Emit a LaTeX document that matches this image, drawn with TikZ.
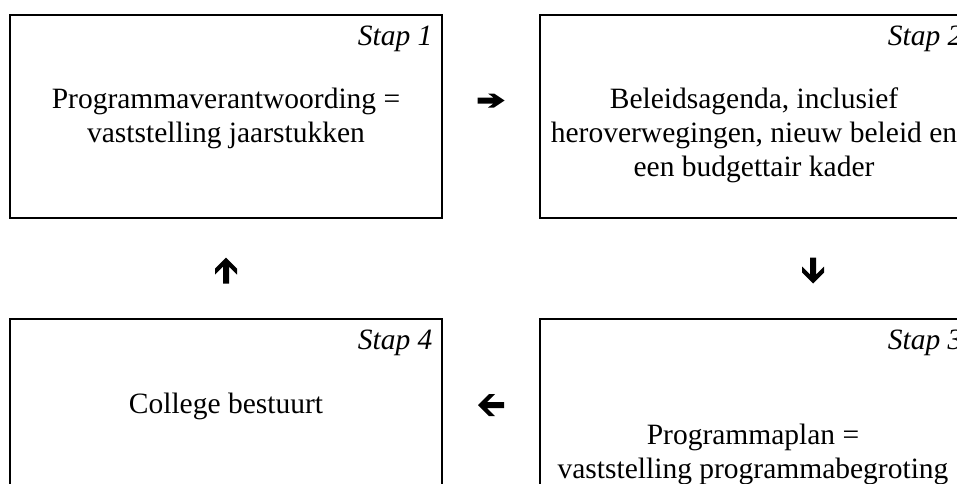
\documentclass[tikz,border=0pt]{standalone}
\usepackage{fontspec}
\setmainfont{Liberation Serif}
\usetikzlibrary{calc}
\tikzset{
  box/.style={draw=black, line width=1.3pt, minimum width=432pt, minimum height=203pt, inner sep=0pt},
  maintext/.style={font=\fontsize{29.5}{34}\selectfont, align=center, inner sep=0pt, anchor=base},
  staptext/.style={font=\fontsize{29.5}{34}\selectfont\itshape, inner sep=0pt, anchor=base east},
  pics/chevarrow/.style={code={
    \fill[black] (-13.5,-3) -- (2.5,-3) -- (-3,-7) -- (3,-7) -- (13.5,0) -- (3,7) -- (-3,7) -- (2.5,3) -- (-13.5,3) -- cycle;
  }},
  pics/wedgearrow/.style={code={
    \fill[black] (13,0) -- (2,-11) -- (-4,-11) -- (4,-3) -- (-13,-3) -- (-13,3) -- (4,3) -- (-4,11) -- (2,11) -- cycle;
  }}
}
\begin{document}
\begin{tikzpicture}[x=1pt,y=-1pt]
\useasboundingbox (0,0) rectangle (957,483);
\clip (0,0) rectangle (957,483);
\node[box] (b1) at (226,116.5) {};
\node[box] (b2) at (756,116.5) {};
\node[box] (b3) at (756,420.5) {};
\node[box] (b4) at (226,420.5) {};
\node[staptext] (s1) at ($(b1.north east)+(-10,31)$) {Stap 1};
\node[staptext] (s2) at ($(b2.north east)+(-10,31)$) {Stap 2};
\node[staptext] (s3) at ($(b3.north east)+(-10,31)$) {Stap 3};
\node[staptext] (s4) at ($(b4.north east)+(-10,31)$) {Stap 4};
\node[maintext] (t1) at ($(b1.north)+(0,128)$) {Programmaverantwoording =\\vaststelling jaarstukken};
\node[maintext] (t2) at ($(b2.north)+(-2,162)$) {Beleidsagenda, inclusief\\heroverwegingen, nieuw beleid en\\een budgettair kader};
\node[maintext] (t3) at ($(b3.north)+(-3,160)$) {Programmaplan =\\vaststelling programmabegroting};
\node[maintext] (t4) at ($(b4.north)+(0,95)$) {College bestuurt};
\coordinate (a12) at ($(b1.east)!0.5!(b2.west)+(0,-16)$);
\coordinate (a34) at ($(b3.west)!0.5!(b4.east)+(0,-15.5)$);
\coordinate (a41) at ($(b4.north)!0.5!(b1.south)+(0,2)$);
\coordinate (a23) at ($(b2.south)!0.5!(b3.north)+(57,2)$);
\pic at (a12) {chevarrow};
\pic[rotate=180] at (a34) {wedgearrow};
\pic[rotate=90] at (a41) {wedgearrow};
\pic[rotate=-90] at (a23) {wedgearrow};
\end{tikzpicture}
\end{document}
